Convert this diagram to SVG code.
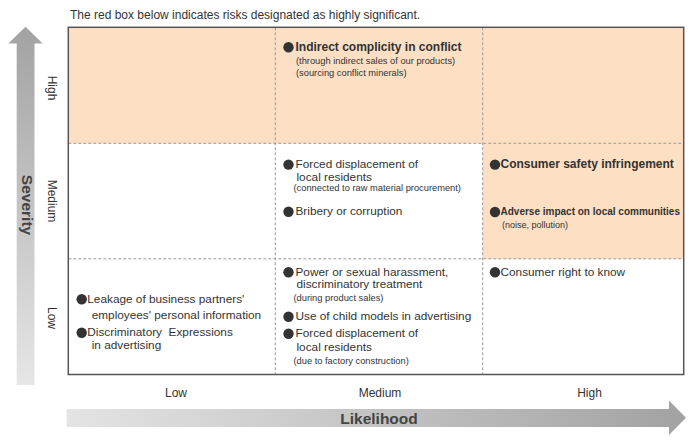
<svg xmlns="http://www.w3.org/2000/svg" width="690" height="440" viewBox="0 0 690 440">
<defs>
<linearGradient id="gv" x1="0" y1="0" x2="0" y2="1"><stop offset="0" stop-color="#a2a2a2"/><stop offset="1" stop-color="#e6e6e6"/></linearGradient>
<linearGradient id="gh" x1="0" y1="0" x2="1" y2="0"><stop offset="0" stop-color="#e4e4e4"/><stop offset="1" stop-color="#a2a2a2"/></linearGradient>
<style>
text{font-family:"Liberation Sans",Arial,sans-serif;fill:#333}
.t{font-size:11.8px}
.b{font-size:12px;font-weight:bold}
.s{font-size:9.3px}
.ax{font-size:12px;text-anchor:middle}
.big{font-size:15.5px;font-weight:bold;text-anchor:middle;fill:#444}
.dot{fill:#333}
.dash{stroke:#9a9a9a;stroke-width:1;stroke-dasharray:3 2;fill:none}
.pre{white-space:pre}
</style>
</defs>
<text class="t" x="70" y="18.5" style="font-size:12px">The red box below indicates risks designated as highly significant.</text>
<g id="axis-severity">
<polygon points="16.7,385 16.7,43.5 8.3,43.5 25.5,26.7 42.7,43.5 34.5,43.5 34.5,385" fill="url(#gv)"/>
<text class="big" transform="translate(22,205) rotate(90)">Severity</text>
<text class="ax" transform="translate(47.5,88) rotate(90)">High</text>
<text class="ax" transform="translate(47.5,201) rotate(90)">Medium</text>
<text class="ax" transform="translate(47.5,318) rotate(90)">Low</text>
</g>
<g id="axis-likelihood">
<polygon points="66.7,409 669,409 669,400.5 686,417.8 669,435 669,427 66.7,427" fill="url(#gh)"/>
<text class="big" x="379" y="423.5">Likelihood</text>
<text class="ax" x="176" y="397.3">Low</text>
<text class="ax" x="380" y="397.3">Medium</text>
<text class="ax" x="589.5" y="397.3">High</text>
</g>
<g id="grid">
<rect x="68.3" y="27.3" width="615.4" height="116" fill="#fddfc3"/>
<rect x="482.7" y="143.3" width="201" height="115.5" fill="#fddfc3"/>
<path class="dash" d="M68.3,143.3H683.7M68.3,258.8H683.7M275.3,27.3V374.5M482.7,27.3V374.5"/>
<rect x="68.3" y="27.3" width="615.4" height="347.2" fill="none" stroke="#555" stroke-width="1.5"/>
</g>
<g id="cell-high-medium">
<circle class="dot" cx="288.5" cy="47.3" r="5.2"/>
<text class="b" x="295.5" y="51">Indirect complicity in conflict</text>
<text class="s" x="296" y="64">(through indirect sales of our products)</text>
<text class="s" x="296" y="75.5">(sourcing conflict minerals)</text>
</g>
<g id="cell-medium-medium">
<circle class="dot" cx="288.5" cy="164.6" r="5.2"/>
<text class="t" x="295.5" y="168.3">Forced displacement of</text>
<text class="t" x="296.5" y="180.8">local residents</text>
<text class="s" x="293.5" y="191.3">(connected to raw material procurement)</text>
<circle class="dot" cx="288.5" cy="211.7" r="5.2"/>
<text class="t" x="295.5" y="215.3">Bribery or corruption</text>
</g>
<g id="cell-medium-high">
<circle class="dot" cx="495" cy="164.6" r="5.2"/>
<text class="b" x="500.5" y="168.3">Consumer safety infringement</text>
<circle class="dot" cx="495" cy="212" r="5.2"/>
<text class="b" x="500.5" y="215.3" style="font-size:10px">Adverse impact on local communities</text>
<text class="s" x="502" y="227.5" style="font-size:9px">(noise, pollution)</text>
</g>
<g id="cell-low-low">
<circle class="dot" cx="81.7" cy="299.3" r="5.2"/>
<text class="t" x="87.3" y="302.7">Leakage of business partners'</text>
<text class="t" x="91.7" y="318.8">employees' personal information</text>
<circle class="dot" cx="81.7" cy="332.8" r="5.2"/>
<text class="t pre" x="87.3" y="336.3">Discriminatory  Expressions</text>
<text class="t" x="91.7" y="349.4">in advertising</text>
</g>
<g id="cell-low-medium">
<circle class="dot" cx="288.5" cy="272.3" r="5.2"/>
<text class="t" x="295.5" y="275.7">Power or sexual harassment,</text>
<text class="t" x="296.5" y="288.3">discriminatory treatment</text>
<text class="s" x="293.5" y="300.5">(during product sales)</text>
<circle class="dot" cx="288.5" cy="316.7" r="5.2"/>
<text class="t" x="295.5" y="320.2">Use of child models in advertising</text>
<circle class="dot" cx="288.5" cy="333.8" r="5.2"/>
<text class="t" x="295.5" y="337.3">Forced displacement of</text>
<text class="t" x="296.5" y="350.6">local residents</text>
<text class="s" x="293.5" y="363.7">(due to factory construction)</text>
</g>
<g id="cell-low-high">
<circle class="dot" cx="495" cy="272.3" r="5.2"/>
<text class="t" x="500.5" y="275.7">Consumer right to know</text>
</g>
</svg>
